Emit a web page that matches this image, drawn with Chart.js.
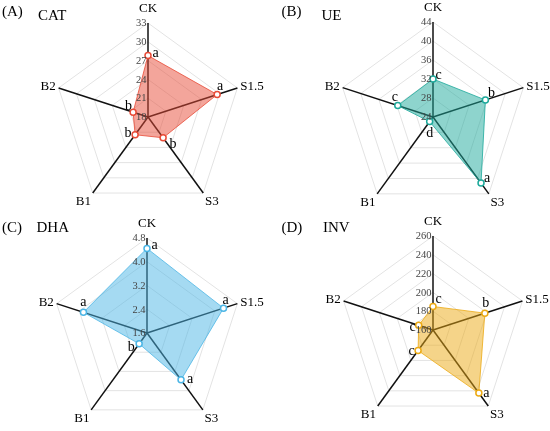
<!DOCTYPE html>
<html>
<head>
<meta charset="utf-8">
<script src="https://cdn.jsdelivr.net/npm/chart.js@4.4.0/dist/chart.umd.min.js"></script>
<style>
  body { margin: 0; background: #fff; }
  #wrap { position: relative; width: 550px; height: 431px; }
  canvas { position: absolute; }
</style>
</head>
<body>
<div id="wrap">
  <canvas id="cA" width="275" height="215" style="left:0;top:0"></canvas>
  <canvas id="cB" width="275" height="215" style="left:275px;top:0"></canvas>
  <canvas id="cC" width="275" height="216" style="left:0;top:215px"></canvas>
  <canvas id="cD" width="275" height="216" style="left:275px;top:215px"></canvas>
</div>
<script>
// Axes of every radar
const categories = ['CK', 'S1.5', 'S3', 'B1', 'B2'];

// Values
const catValues = [27.8, 29.6, 22.1, 21.5, 20.5];
const ueValues = [32.0, 35.6, 41.2, 25.2, 31.8];
const dhaValues = [4.45, 4.31, 3.55, 2.05, 3.85];
const invValues = [185, 218, 243, 187, 176];

// Significance letters
const catLetters = ['a', 'a', 'b', 'b', 'b'];
const ueLetters = ['c', 'b', 'a', 'd', 'c'];
const dhaLetters = ['a', 'a', 'a', 'b', 'a'];
const invLetters = ['c', 'b', 'a', 'c', 'c'];

// Radial tick labels
const catTicks = [18, 21, 24, 27, 30, 33];
const ueTicks = [24, 28, 32, 36, 40, 44];
const dhaTicks = [1.6, 2.4, 3.2, 4.0, 4.8];
const invTicks = [160, 180, 200, 220, 240, 260];

const SERIF = '"Liberation Serif", "Times New Roman", serif';

const panels = [
  { id: 'cA', tag: '(A)', name: 'CAT', values: catValues, letters: catLetters, ticks: catTicks, decimals: 0,
    rgb: '232, 75, 55', cx: 148, cy: 117, r: 94, tagX: 2, nameX: 38, tagY: 15.7, nameY: 20,
    letterOffsets: [[7.5, 1], [3, -5], [10, 10.5], [-7, 2.5], [-4.5, -2]] },
  { id: 'cB', tag: '(B)', name: 'UE', values: ueValues, letters: ueLetters, ticks: ueTicks, decimals: 0,
    rgb: '29, 169, 155', cx: 158, cy: 117, r: 95, tagX: 6.5, nameX: 46.5, tagY: 15.7, nameY: 20,
    letterOffsets: [[5.5, 0], [6, -2.5], [6, -1.5], [0, 15.5], [-3, -4.5]] },
  { id: 'cC', tag: '(C)', name: 'DHA', values: dhaValues, letters: dhaLetters, ticks: dhaTicks, decimals: 1,
    rgb: '75, 181, 229', cx: 147, cy: 118, r: 95, tagX: 2, nameX: 36.5, tagY: 16.5, nameY: 17,
    letterOffsets: [[7.5, 0.5], [2, -4.5], [9, 3.5], [-8, 7.5], [0, -6.5]] },
  { id: 'cD', tag: '(D)', name: 'INV', values: invValues, letters: invLetters, ticks: invTicks, decimals: 0,
    rgb: '236, 170, 20', cx: 158, cy: 115, r: 94, tagX: 6.5, nameX: 48, tagY: 16.5, nameY: 16.5,
    letterOffsets: [[5.5, -3.5], [1, -6.5], [7.5, 3.5], [-6.5, 4], [-6, 6]] }
];

// Tick labels, category labels, letters and panel titles
const radarDecor = {
  id: 'radarDecor',
  afterDatasetsDraw(chart, args, opts) {
    const p = opts.panel;
    const ctx = chart.ctx;
    const scale = chart.scales.r;
    ctx.save();

    ctx.font = '10.5px ' + SERIF;
    ctx.fillStyle = '#444';
    ctx.textAlign = 'right';
    ctx.textBaseline = 'middle';
    p.ticks.forEach(v => {
      const y = scale.yCenter - scale.getDistanceFromCenterForValue(v);
      ctx.fillText(v.toFixed(p.decimals), scale.xCenter - 1.5, y + 0.5);
    });

    ctx.font = '13px ' + SERIF;
    ctx.fillStyle = '#000';
    categories.forEach((c, i) => {
      const pos = scale.getPointPosition(i, scale.drawingArea + (i === 0 ? 8 : 3));
      const cos = Math.cos(pos.angle), sin = Math.sin(pos.angle);
      ctx.textAlign = Math.abs(cos) < 0.1 ? 'center' : (cos > 0 ? 'left' : 'right');
      ctx.textBaseline = sin < -0.9 ? 'bottom' : (sin > 0.5 ? 'top' : 'middle');
      ctx.fillText(c, pos.x, pos.y);
    });

    ctx.font = '14px ' + SERIF;
    ctx.textAlign = 'center';
    ctx.textBaseline = 'alphabetic';
    chart.getDatasetMeta(0).data.forEach((pt, i) => {
      const off = p.letterOffsets[i];
      ctx.fillText(p.letters[i], pt.x + off[0], pt.y + off[1]);
    });

    ctx.font = '15px ' + SERIF;
    ctx.textAlign = 'left';
    ctx.fillText(p.tag, p.tagX, p.tagY);
    ctx.fillText(p.name, p.nameX, p.nameY);
    ctx.restore();
  }
};

panels.forEach(p => {
  const canvas = document.getElementById(p.id);
  const W = canvas.width, H = canvas.height;
  new Chart(canvas, {
    type: 'radar',
    data: {
      labels: categories,
      datasets: [{
        data: p.values,
        fill: true,
        backgroundColor: 'rgba(' + p.rgb + ', 0.5)',
        borderColor: 'rgba(' + p.rgb + ', 0.8)',
        borderWidth: 1,
        pointRadius: 3,
        pointBorderWidth: 1.5,
        pointBackgroundColor: '#fff',
        pointBorderColor: 'rgb(' + p.rgb + ')'
      }]
    },
    options: {
      responsive: false,
      animation: false,
      events: [],
      layout: {
        padding: { left: p.cx - p.r, top: p.cy - p.r, right: W - p.cx - p.r, bottom: H - p.cy - p.r }
      },
      plugins: {
        legend: { display: false },
        tooltip: { enabled: false },
        radarDecor: { panel: p }
      },
      scales: {
        r: {
          min: p.ticks[0],
          max: p.ticks[p.ticks.length - 1],
          afterBuildTicks: scale => { scale.ticks = p.ticks.map(v => ({ value: v })); },
          ticks: { display: false },
          pointLabels: { display: false },
          grid: { color: '#e3e3e3', lineWidth: 1 },
          angleLines: { color: '#111', lineWidth: 1.5 }
        }
      }
    },
    plugins: [radarDecor]
  });
});
</script>
</body>
</html>
